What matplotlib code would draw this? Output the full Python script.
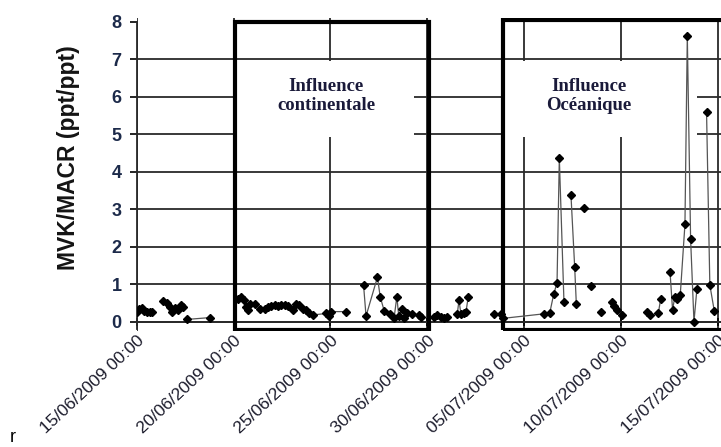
import datetime

import numpy as np
import pandas as pd
import matplotlib
matplotlib.use('Agg')
import matplotlib.pyplot as plt
import matplotlib.dates as mdates
from matplotlib.patches import Rectangle

# MVK/MACR ratio, sampling times (2009)
times = [
    '06-15 00:00', '06-15 03:00', '06-15 06:30', '06-15 09:30', '06-15 12:45', '06-15 16:30', '06-15 19:00',
    '06-16 09:00', '06-16 13:00', '06-16 17:00', '06-16 19:15', '06-16 23:15', '06-17 03:30', '06-17 07:30', '06-17 09:30',
    '06-17 13:45', '06-18 18:30',
    '06-20 05:30', '06-20 09:45', '06-20 13:00', '06-20 15:50', '06-20 17:50', '06-20 20:00', '06-21 02:10',
    '06-21 08:20', '06-21 14:25', '06-21 18:30', '06-21 22:45', '06-22 02:50', '06-22 06:55', '06-22 11:00',
    '06-22 15:10', '06-22 19:15', '06-23 01:25', '06-23 05:35', '06-23 09:40', '06-23 13:45', '06-23 18:00',
    '06-23 22:05', '06-24 02:10', '06-24 18:40', '06-24 22:45', '06-25 01:00', '06-25 19:25',
    '06-26 17:05', '06-26 20:10', '06-27 10:20', '06-27 13:40', '06-27 18:40', '06-28 02:10', '06-28 07:00',
    '06-28 10:20', '06-28 12:40', '06-28 17:20', '06-28 19:25', '06-28 23:30', '06-29 05:40', '06-29 14:00',
    '06-29 16:50',
    '06-30 08:25', '06-30 12:30', '06-30 16:45', '06-30 20:50', '07-01 00:55',
    '07-01 13:10', '07-01 15:20', '07-01 17:50', '07-01 21:35', '07-02 00:00', '07-02 02:50',
    '07-03 10:35', '07-03 19:40', '07-03 22:05', '07-06 00:20', '07-06 07:40', '07-06 12:40', '07-06 16:50',
    '07-06 19:40', '07-07 01:25',
    '07-07 10:05', '07-07 14:40', '07-07 16:45',
    '07-08 01:40',
    '07-08 10:45',
    '07-08 23:35',
    '07-09 12:45', '07-09 15:40', '07-09 18:55', '07-10 01:55',
    '07-11 08:50', '07-11 12:30',
    '07-11 22:20', '07-12 01:10',
    '07-12 12:50', '07-12 16:00', '07-12 18:45', '07-12 21:50', '07-13 01:30', '07-13 07:20', '07-13 10:15',
    '07-13 14:20', '07-13 18:30', '07-13 22:05',
    '07-14 10:05', '07-14 14:10', '07-14 19:40',
]
ratio = [
    0.25, 0.33, 0.36, 0.29, 0.27, 0.27, 0.26,
    0.56, 0.49, 0.38, 0.27, 0.36, 0.31, 0.45, 0.40,
    0.06, 0.11,
    0.61, 0.65, 0.57, 0.39, 0.30, 0.48, 0.48,
    0.35, 0.35, 0.39, 0.41, 0.44, 0.41, 0.44,
    0.44, 0.41, 0.31, 0.48, 0.44, 0.35, 0.31,
    0.24, 0.18, 0.22, 0.15, 0.27, 0.27,
    0.98, 0.15, 1.19, 0.67, 0.29, 0.20, 0.11,
    0.67, 0.15, 0.35, 0.09, 0.22, 0.20, 0.18,
    0.13,
    0.13, 0.18, 0.13, 0.09, 0.13,
    0.20, 0.57, 0.20, 0.22, 0.26, 0.67,
    0.21, 0.21, 0.09, 0.21, 0.22, 0.73, 1.04,
    4.36, 0.53,
    3.38, 1.47, 0.47,
    3.02,
    0.95,
    0.27,
    0.53, 0.42, 0.31, 0.18,
    0.27, 0.18,
    0.22, 0.60,
    1.33, 0.31, 0.67, 0.60, 0.71, 2.60, 7.62,
    2.20, 0.00, 0.86,
    5.60, 0.98, 0.29,
]
# index of the first point of each continuous run (missing data between runs)
run_starts = [0, 7, 15, 17, 44, 59, 64, 70, 79, 82, 83, 84, 85, 89, 91, 93, 103]

tick_days = ['15/06/2009 00:00', '20/06/2009 00:00', '25/06/2009 00:00', '30/06/2009 00:00',
             '05/07/2009 00:00', '10/07/2009 00:00', '15/07/2009 00:00']

zones = ['Influence\ncontinentale', 'Influence\nOcéanique']
zone_start = ['2009-06-20 01:30', '2009-07-03 22:00']
zone_end = ['2009-06-30 02:10', '2009-07-16 12:00']
blank_start = ['2009-06-20 01:30', '2009-07-03 19:00']
blank_end = ['2009-06-29 08:00', '2009-07-13 22:45']
label_at = ['2009-06-24 19:00', '2009-07-08 08:30']


def num(s):
    return mdates.date2num(pd.Timestamp(s).to_pydatetime())


x = np.array([num('2009-' + s) for s in times])
y = np.array(ratio)
tick_x = [mdates.date2num(datetime.datetime.strptime(s, '%d/%m/%Y %H:%M')) for s in tick_days]

fig = plt.figure(figsize=(7.21, 4.47), dpi=100)
ymin, ymax = -0.25, 8.1
ax = fig.add_axes([136.7 / 721, 1 - 331.1 / 447, 1 - 136.7 / 721, (331.1 - 17.95) / 447])

# spines first: moving a spine rebuilds the ticks
for s in ['top', 'right']:
    ax.spines[s].set_visible(False)
ax.spines['bottom'].set_position(('data', 0))
ax.spines['left'].set_bounds(-0.2, 8.0)
for s in ['bottom', 'left']:
    ax.spines[s].set_linewidth(1.3)
    ax.spines[s].set_color('#2a2a2a')

bounds = run_starts + [len(y)]
for a, b in zip(bounds[:-1], bounds[1:]):
    ax.plot(x[a:b], y[a:b], color='#555555', lw=0.9, marker='D', ms=4.5,
            mfc='black', mec='black', zorder=5)

ax.set_xlim(num('2009-06-15 00:00'), num('2009-07-15 04:00'))
ax.set_ylim(ymin, ymax)

ax.tick_params(axis='y', length=5, width=1.2, pad=6, direction='out')
ax.tick_params(axis='x', length=6, width=1.2, pad=5, direction='inout')
ax.set_yticks(range(0, 9))
ax.set_xticks(tick_x, labels=tick_days, rotation=43, ha='right', va='top', rotation_mode='anchor',
              fontsize=12.5, family='Liberation Sans', color='#1c1c2c')
for lab in ax.get_yticklabels():
    lab.set_fontweight('bold')
    lab.set_family('Liberation Sans')
    lab.set_fontsize(13)
    lab.set_color('#1c2a4a')

ax.grid(True, color='#2a2a2a', lw=1.3, zorder=1)
ax.yaxis.get_gridlines()[-1].set_visible(False)
ax.set_axisbelow(True)

ax.set_ylabel('MVK/MACR (ppt/ppt)', fontsize=16.5, fontweight='bold', family='Liberation Sans',
              color='#141414')
ax.yaxis.set_label_coords(-0.097, 0.554)

for name, z0, z1, b0, b1, lx in zip(zones, zone_start, zone_end, blank_start, blank_end, label_at):
    x0, x1 = num(b0), num(b1)
    ax.add_patch(Rectangle((x0, 4.93), x1 - x0, 2.02, facecolor='white', edgecolor='none', zorder=2))
    x0, x1 = num(z0), num(z1)
    ax.add_patch(Rectangle((x0, -0.22), x1 - x0, 8.22 + (0.04 if 'Oc' in name else 0),
                           facecolor='none', edgecolor='black', lw=3.0, zorder=6))
    ax.text(num(lx), 6.02, name, ha='center', va='center',
            fontsize=13.5, fontweight='bold', family='Liberation Serif', color='#1a1a3a',
            linespacing=1.2, zorder=7)

fig.text(0.014, 0.012, 'r', fontsize=13, family='Liberation Sans')

fig.savefig('out.png', dpi=100)
